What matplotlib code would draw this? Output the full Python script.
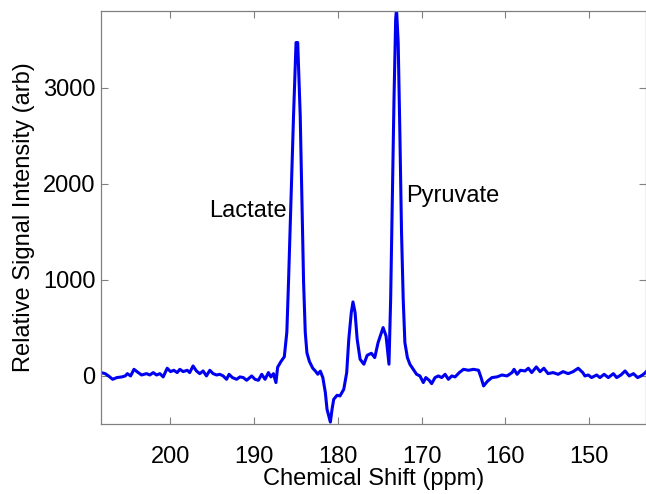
import matplotlib
matplotlib.use("Agg")
from matplotlib import pyplot as plt

plt.rcParams['font.family'] = ['Liberation Sans', 'DejaVu Sans']

# chemical shift (ppm) and signal
ppm = [208.4, 208.3, 207.8, 207.4, 206.9, 206.4, 205.8, 205.4, 205.15, 204.76,
       204.36, 203.85, 203.45, 202.86, 202.46, 202.06, 201.66, 201.26, 200.87, 200.39,
       199.99, 199.6, 199.2, 198.88, 198.48, 198.0, 197.7, 197.3, 196.9, 196.5,
       196.1, 195.7, 195.3, 194.9, 194.5, 194.1, 193.7, 193.3, 193.0, 192.6,
       192.1, 191.7, 191.3, 190.9, 190.3, 189.9, 189.5, 189.1, 188.7, 188.3,
       188.0, 187.7, 187.4, 187.2, 186.8, 186.4, 186.1, 185.9, 185.6, 185.3,
       185.0, 184.8, 184.5, 184.3, 184.1, 183.9, 183.7, 183.4, 183.0, 182.7,
       182.4, 182.1, 181.8, 181.5, 181.3, 180.9, 180.7, 180.5, 180.1, 179.75,
       179.3, 178.95, 178.7, 178.4, 178.2, 177.95, 177.7, 177.35, 176.9, 176.5,
       176.0, 175.6, 175.2, 174.6, 174.25, 173.9, 173.7, 173.5, 173.3, 173.1,
       173.0, 172.8, 172.6, 172.4, 172.2, 172.0, 171.7, 171.4, 171.0, 170.6,
       170.2, 169.8, 169.5, 169.1, 168.8, 168.4, 168.0, 167.6, 167.2, 166.8,
       166.4, 166.0, 165.5, 165.0, 164.4, 163.8, 163.2, 162.9, 162.6, 162.1,
       161.6, 161.0, 160.4, 159.8, 159.2, 158.96, 158.6, 158.2, 157.65, 157.25,
       156.85, 156.3, 155.85, 155.4, 154.9, 154.3, 153.7, 153.1, 152.5, 151.9,
       151.3, 150.75, 150.5, 150.1, 149.7, 149.1, 148.7, 148.2, 147.7, 147.1,
       146.7, 146.2, 145.7, 145.2, 144.7, 144.2, 143.8, 143.4, 143.1]
signal = [30, 35, 24, 0, -35, -17, -10, 0, 24, 0,
          69, 35, 10, 24, 10, 35, 10, 24, -10, 80,
          45, 59, 35, 69, 45, 59, 35, 104, 52, 24,
          52, 0, 59, 24, 10, 17, 0, -35, 17, -17,
          -35, -10, -17, -45, 0, -35, -45, 17, -35, 35,
          -10, 24, -69, 90, 150, 200, 455, 975, 1839, 2706,
          3469, 3469, 2706, 1839, 975, 455, 240, 150, 80, 52,
          18, 50, -17, -173, -347, -480, -347, -243, -201, -208,
          -139, 35, 382, 660, 770, 660, 382, 174, 122, 215,
          236, 191, 347, 503, 416, 122, 798, 1839, 2879, 3712,
          3820, 3469, 2533, 1492, 798, 347, 191, 121, 69, 17,
          0, -69, -17, -45, -80, -17, 0, -17, 17, -35,
          0, -10, 35, 69, 59, 69, 59, -17, -104, -52,
          -17, -10, 10, 0, 35, 69, 17, 59, 52, 80,
          35, 94, 45, 80, 24, 35, 17, 45, 24, 45,
          80, 35, 0, 10, -17, 10, -17, 17, -17, 24,
          -17, 10, 52, 0, 24, -17, 0, 24, 52]

x_ticks = [150, 160, 170, 180, 190, 200]
y_ticks = [0, 1000, 2000, 3000]

fig = plt.figure(figsize=(6.46, 4.94), dpi=100)
ax = fig.add_axes([0.1563, 0.1417, 0.8437, 0.8366])

ax.plot(ppm, signal, color='#0000f0', linewidth=2.2)

ax.set_xlim(208.3, 143.2)
ax.set_ylim(-500, 3800)
ax.set_xticks(x_ticks)
ax.set_yticks(y_ticks)

ax.text(186.1, 1714, 'Lactate', fontsize=17, ha='right', va='center')
ax.text(171.8, 1873, 'Pyruvate', fontsize=17, ha='left', va='center')

ax.set_xlabel('Chemical Shift (ppm)', fontsize=17, labelpad=0)
ax.set_ylabel('Relative Signal Intensity (arb)', fontsize=17, labelpad=6)

ax.tick_params(direction='in', length=5, width=0.8, color='#808080',
               top=True, right=True, labelsize=17)
ax.tick_params(axis='x', pad=16)
ax.tick_params(axis='y', pad=4)
for s in ax.spines.values():
    s.set_color('#808080')
    s.set_linewidth(0.9)

fig.savefig('out.png', dpi=100)
